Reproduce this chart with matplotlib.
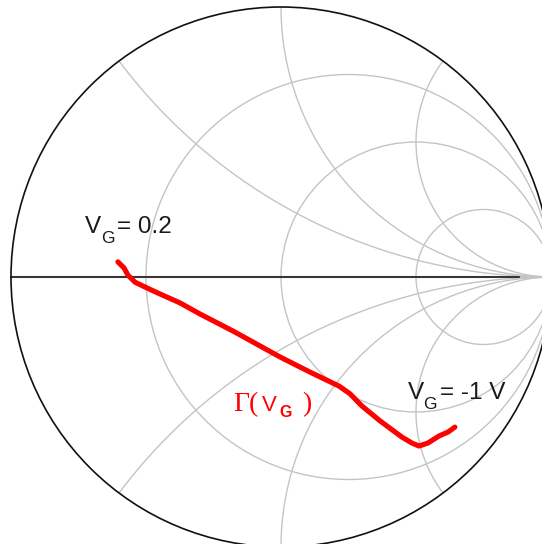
import numpy as np
import matplotlib
matplotlib.use("Agg")
import matplotlib.pyplot as plt
from matplotlib.patches import Circle

# Smith chart grid values (normalised resistance / reactance)
resistance_circles = [1 / 3, 1.0, 3.0]
reactance_arcs = [0.5, 1.0, 2.0]

# Measured reflection coefficient Γ(V_G), swept from V_G = 0.2 V down to -1 V
gamma_re = [-0.604, -0.581, -0.567, -0.541, -0.504, -0.448, -0.374, -0.300,
            -0.178, -0.004, 0.107, 0.215, 0.256, 0.300, 0.367, 0.448,
            0.485, 0.511, 0.544, 0.585, 0.619, 0.644]
gamma_im = [0.056, 0.033, 0.007, -0.019, -0.037, -0.063, -0.096, -0.137,
            -0.200, -0.296, -0.352, -0.404, -0.433, -0.478, -0.533, -0.593,
            -0.615, -0.626, -0.615, -0.589, -0.574, -0.556]

label_start = "0.2"
label_end = "-1 V"

GRID = "#c4c4c4"
INK = "#1a1a1a"
SANS = "Liberation Sans"
SERIF = "Liberation Serif"

fig = plt.figure(figsize=(5.42, 5.44), dpi=100)
ax = fig.add_axes([0, 0, 1, 1])
ax.set_xlim(-281 / 270, 261 / 270)
ax.set_ylim(-267 / 270, 277 / 270)
ax.set_aspect("auto")
ax.axis("off")

# constant-resistance circles
for r in resistance_circles:
    ax.add_patch(Circle((r / (1 + r), 0), 1 / (1 + r), fill=False,
                        ec=GRID, lw=1.0, zorder=1))

# constant-reactance arcs (both signs)
rr = np.concatenate([[0.0], np.logspace(-3, 4, 800)])
for x in reactance_arcs:
    for s in (1, -1):
        z = rr + 1j * s * x
        g = (z - 1) / (z + 1)
        ax.plot(g.real, g.imag, color=GRID, lw=1.0, zorder=1)

# real axis
ax.plot([-1, 1], [0, 0], color=GRID, lw=1.6, zorder=1)
ax.plot([-1, 0.88], [0, 0], color=INK, lw=1.2, zorder=2)

# outer |Γ| = 1 boundary
ax.add_patch(Circle((0, 0), 1.0, fill=False, ec="#111111", lw=1.2, zorder=3))

# Γ trajectory
ax.plot(gamma_re, gamma_im, color="#ff0000", lw=3.7, solid_capstyle="round",
        solid_joinstyle="round", zorder=4)

# start / end annotations
ax.text(-0.726, 0.163, "V", family=SANS, fontsize=17.5, color=INK)
ax.text(-0.665, 0.126, "G", family=SANS, fontsize=12.5, color=INK)
ax.text(-0.607, 0.163, "= " + label_start, family=SANS, fontsize=17.5,
        color=INK)

ax.text(0.470, -0.452, "V", family=SANS, fontsize=17.5, color=INK)
ax.text(0.528, -0.489, "G", family=SANS, fontsize=12.5, color=INK)
ax.text(0.588, -0.452, "= " + label_end, family=SANS, fontsize=17.5,
        color=INK)

# curve label Γ(V_G)
ax.text(-0.178, -0.496, "Γ(", family=SERIF, fontsize=20, color="#ff0000")
ax.text(-0.072, -0.496, "V", family=SANS, fontsize=16, color="#ff0000")
ax.text(-0.005, -0.520, "G", family=SANS, fontsize=11.5, color="#ff0000",
        fontweight="bold")
ax.text(0.078, -0.496, ")", family=SERIF, fontsize=20, color="#ff0000")

fig.savefig("out.png", dpi=100, facecolor="white")
